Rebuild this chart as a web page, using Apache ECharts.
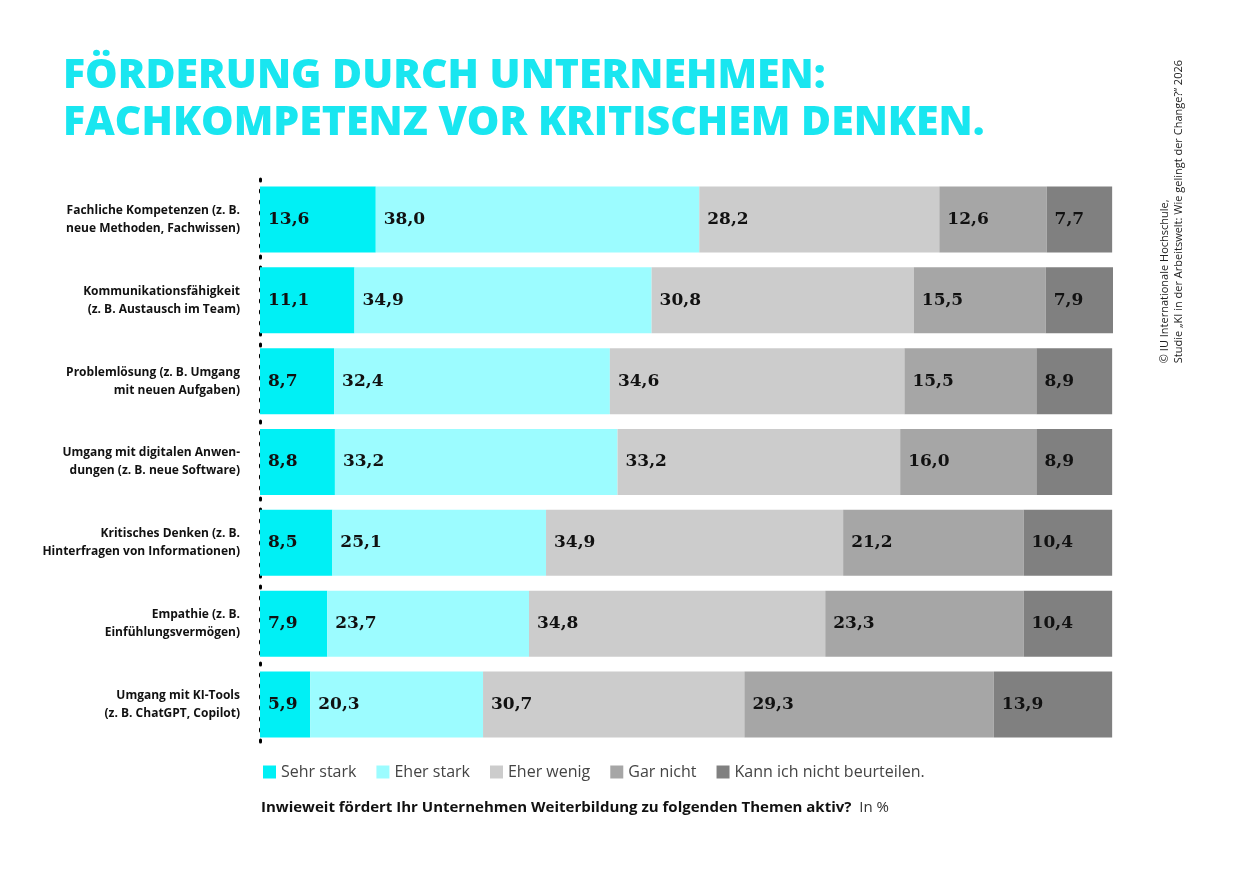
<!DOCTYPE html><html><head><meta charset="utf-8"><script src="https://cdn.jsdelivr.net/npm/echarts@6/dist/echarts.min.js"></script></head><body style="margin:0;background:#fff"><div id="c" style="width:1240px;height:874px"></div><script>
const categories=["Fachliche Kompetenzen (z. B.\nneue Methoden, Fachwissen)","Kommunikationsfähigkeit\n(z. B. Austausch im Team)","Problemlösung (z. B. Umgang\nmit neuen Aufgaben)","Umgang mit digitalen Anwen-\ndungen (z. B. neue Software)","Kritisches Denken (z. B.\nHinterfragen von Informationen)","Empathie (z. B.\nEinfühlungsvermögen)","Umgang mit KI-Tools\n(z. B. ChatGPT, Copilot)"];
const seriesNames=["Sehr stark","Eher stark","Eher wenig","Gar nicht","Kann ich nicht beurteilen."];
const sehrStark=[13.6,11.1,8.7,8.8,8.5,7.9,5.9];
const eherStark=[38.0,34.9,32.4,33.2,25.1,23.7,20.3];
const eherWenig=[28.2,30.8,34.6,33.2,34.9,34.8,30.7];
const garNicht=[12.6,15.5,15.5,16.0,21.2,23.3,29.3];
const kannNicht=[7.7,7.9,8.9,8.9,10.4,10.4,13.9];
const data=[sehrStark,eherStark,eherWenig,garNicht,kannNicht];
const colors=["#00F0F5","#9CFCFF","#CCCCCC","#A6A6A6","#808080"];
const chart=echarts.init(document.getElementById('c'));
chart.setOption({
animation:false,
title:[{text:"FÖRDERUNG DURCH UNTERNEHMEN:\nFACHKOMPETENZ VOR KRITISCHEM DENKEN.",left:58,top:48,textStyle:{color:"#19E6F0",fontFamily:"Open Sans",fontWeight:800,fontSize:41,lineHeight:47}}],
graphic:[{type:'text',left:1158,top:60,rotation:Math.PI/2,style:{text:"© IU Internationale Hochschule,\nStudie „KI in der Arbeitswelt: Wie gelingt der Change?“ 2026",fill:"#222",font:"11px 'Open Sans'",lineHeight:14,align:'right'}},
{type:'text',left:261,top:800,style:{rich:{b:{font:"bold 15px 'Open Sans'",fill:"#111"},n:{font:"15px 'Open Sans'",fill:"#333"}},text:"{b|Inwieweit fördert Ihr Unternehmen Weiterbildung zu folgenden Themen aktiv?}{n|  In %}"}}],
legend:{left:258,top:759,itemWidth:13,itemHeight:13,itemGap:20,icon:'rect',textStyle:{fontFamily:"Open Sans",fontSize:16,color:"#444"},data:seriesNames},
grid:{left:260,right:127,top:179,bottom:129},
xAxis:{type:'value',min:0,max:100.2,show:false},
yAxis:{type:'category',inverse:true,data:categories,axisLine:{show:true,lineStyle:{type:[2,9],color:'#000',width:3,cap:'round'}},axisTick:{show:false},axisLabel:{margin:20,fontFamily:"Open Sans",fontWeight:'bold',fontSize:12,color:'#111',lineHeight:18,align:'right'}},
series:data.map((d,i)=>({name:seriesNames[i],type:'bar',stack:'a',data:d,barWidth:66,itemStyle:{color:colors[i]},
label:{show:true,position:'insideLeft',distance:8,formatter:p=>p.value.toFixed(1).replace('.',','),fontFamily:"DejaVu Serif",fontWeight:'bold',fontSize:17,color:'#111'}}))
});
</script></body></html>
